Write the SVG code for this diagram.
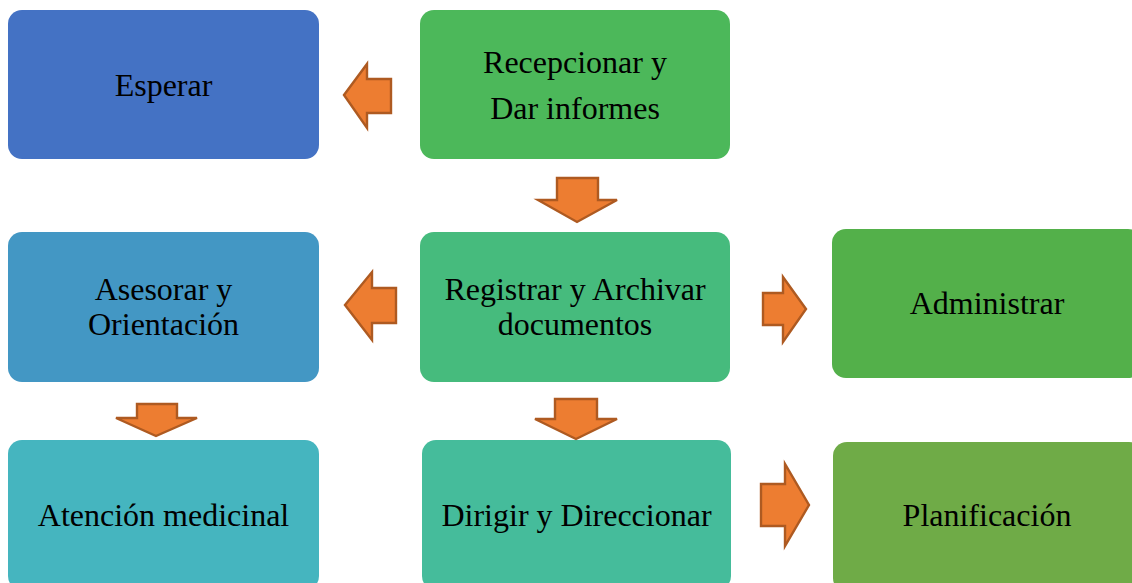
<svg xmlns="http://www.w3.org/2000/svg" width="1132" height="583" viewBox="0 0 1132 583">
<style>
.box{stroke:none}
.t{font-family:"Liberation Serif","Times New Roman",serif;font-size:32px;fill:#000;text-anchor:middle}
.arr{fill:#ED7D31;stroke:#AE5A21;stroke-width:2.4;stroke-linejoin:miter}
</style>
<rect width="1132" height="583" fill="#fff"/>
<g id="esperar"><rect class="box" x="8" y="10" width="311" height="149" rx="14" fill="#4472C4"/><text class="t" x="163.5" y="96">Esperar</text></g>
<g id="recepcionar"><rect class="box" x="420" y="10" width="310" height="149" rx="14" fill="#4CB85A"/><text class="t" x="575" y="73">Recepcionar y</text><text class="t" x="575" y="119">Dar informes</text></g>
<g id="asesorar"><rect class="box" x="8" y="232" width="311" height="150" rx="14" fill="#4397C4"/><text class="t" x="163.5" y="300">Asesorar y</text><text class="t" x="163.5" y="335">Orientación</text></g>
<g id="registrar"><rect class="box" x="420" y="232" width="310" height="150" rx="14" fill="#46BB7D"/><text class="t" x="575" y="300">Registrar y Archivar</text><text class="t" x="575" y="335">documentos</text></g>
<g id="administrar"><rect class="box" x="832" y="229" width="310" height="149" rx="14" fill="#53B04A"/><text class="t" x="987" y="314">Administrar</text></g>
<g id="atencion"><rect class="box" x="8" y="440" width="311" height="150" rx="14" fill="#45B5BF"/><text class="t" x="163.5" y="526">Atención medicinal</text></g>
<g id="dirigir"><rect class="box" x="422" y="440" width="309" height="150" rx="14" fill="#45BC9B"/><text class="t" x="576.5" y="526">Dirigir y Direccionar</text></g>
<g id="planificacion"><rect class="box" x="833" y="442" width="310" height="150" rx="14" fill="#6FAB47"/><text class="t" x="987" y="526">Planificación</text></g>
<g id="connectors">
<polygon class="arr" points="344,95 367,64 367,79 391,79 391,113 367,113 367,128"/>
<polygon class="arr" points="557,178 598,178 598,200 617,200 577,222 538,200 557,200"/>
<polygon class="arr" points="345,305 372,272 372,288 396,288 396,323 372,323 372,340"/>
<polygon class="arr" points="763,293 783,293 783,277 806,309 783,342 783,325 763,325"/>
<polygon class="arr" points="137,404 177,404 177,418 197,418 156,436 116,418 137,418"/>
<polygon class="arr" points="555,399 597,399 597,419 617,419 576,439 535,419 555,419"/>
<polygon class="arr" points="761,484 785,484 785,464 809,505 785,546 785,526 761,526"/>
</g>
</svg>
